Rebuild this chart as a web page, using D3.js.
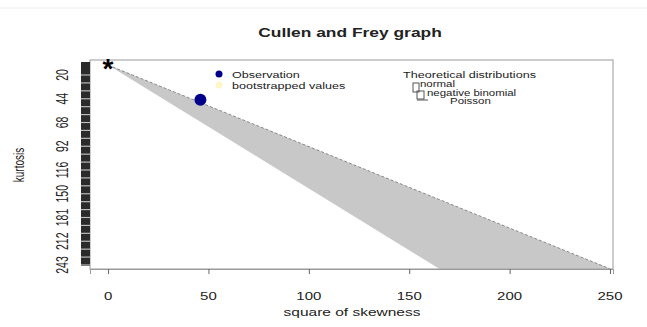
<!DOCTYPE html>
<html lang="en">
<head>
    <meta charset="UTF-8">
    <title>Cullen and Frey graph</title>
    <script src="https://d3js.org/d3.v7.min.js"></script>
    <style>
        body { margin: 0; background: white; }
        text { font-family: "Liberation Sans", Arial, sans-serif; fill: #222; }
    </style>
</head>
<body>
    <svg id='svg'></svg>
    <script>
        // data
        const xTicks = [0, 50, 100, 150, 200, 250];
        const kurtLabels = [20, 44, 68, 92, 116, 150, 181, 212, 243];
        const normalPoint = [0, 10];          // square of skewness, kurtosis
        const observation = [46, 45];
        const betaRegion = [[0, 10], [250, 248], [165, 248]];
        const theoLabels = ["normal", "negative binomial", "Poisson"];

        const width = 647, height = 327;
        const svg = d3.select('#svg').attr('width', width).attr('height', height);
        const sx = 1.5; // the picture is stretched sideways

        const xScale = d3.scaleLinear().domain([-9, 251.5]).range([90, 613]);
        // labels are evenly spaced on the axis
        const yScale = d3.scaleLinear()
            .domain(kurtLabels)
            .range(kurtLabels.map((d, i) => 75 + i * (265 - 75) / (kurtLabels.length - 1)));

        function label(x, y, txt, opts) {
            opts = opts || {};
            const t = svg.append('text')
                .attr('transform', `translate(${x},${y}) scale(${opts.sx || sx},1)` + (opts.rot ? ` rotate(${opts.rot})` : ''))
                .attr('text-anchor', opts.anchor || 'middle')
                .style('font-size', (opts.size || 10) + 'px')
                .text(txt);
            if (opts.bold) t.style('font-weight', 'bold');
            return t;
        }

        svg.append('line').attr('x1', 0).attr('x2', width).attr('y1', 8).attr('y2', 8)
            .attr('stroke', '#eee');

        // shaded region
        svg.append('path')
            .attr('d', d3.line().x(d => xScale(d[0])).y(d => yScale(d[1]))(betaRegion) + 'Z')
            .attr('fill', '#c8c8c8');
        svg.append('line')
            .attr('x1', xScale(betaRegion[0][0])).attr('y1', yScale(betaRegion[0][1]))
            .attr('x2', xScale(betaRegion[1][0])).attr('y2', yScale(betaRegion[1][1]))
            .attr('stroke', '#888').attr('stroke-dasharray', '3,2');

        // plot box
        svg.append('rect').attr('x', 90).attr('y', 60).attr('width', 523).attr('height', 209)
            .attr('fill', 'none').attr('stroke', '#999');

        // x axis
        const xAxis = svg.append('g').attr('transform', 'translate(0,269)')
            .call(d3.axisBottom(xScale).tickValues(xTicks).tickSize(5).tickFormat(''));
        xAxis.select('.domain').attr('stroke', '#999');
        xAxis.selectAll('.tick line').attr('stroke', '#666');
        xTicks.forEach(t => label(xScale(t), 300, t, { size: 10 }));

        // y axis: dense tick strip
        svg.append('rect').attr('x', 81).attr('y', 62).attr('width', 9).attr('height', 204)
            .attr('fill', '#2b2b2b');
        const steps = d3.range(0, (kurtLabels.length - 1) * 3 + 1);
        svg.selectAll('.gap').data(steps).enter().append('line')
            .attr('x1', 81).attr('x2', 90)
            .attr('y1', d => 75 + d * (190 / 24)).attr('y2', d => 75 + d * (190 / 24))
            .attr('stroke', '#bbb').attr('stroke-width', 1.2);
        kurtLabels.forEach(k => label(68, yScale(k), k, { rot: -90, size: 10.5 }));

        // marks
        svg.append('text')
            .attr('x', xScale(normalPoint[0])).attr('y', yScale(normalPoint[1]) + 13)
            .attr('text-anchor', 'middle').style('font-size', '28px').style('font-weight', 'bold')
            .style('fill', '#000').text('*');
        svg.append('circle')
            .attr('cx', xScale(observation[0])).attr('cy', yScale(observation[1]))
            .attr('r', 6).attr('fill', '#00008b');

        // titles
        label(350, 37, 'Cullen and Frey graph', { size: 12, bold: true, sx: 1.45 });
        label(352, 316, 'square of skewness', { size: 10, sx: 1.55 });
        label(24, 165, 'kurtosis', { rot: -90, size: 10 });

        // legend 1
        svg.append('circle').attr('cx', 219).attr('cy', 74).attr('r', 3.5).attr('fill', '#00008b');
        svg.append('circle').attr('cx', 219).attr('cy', 85).attr('r', 3.5).attr('fill', '#fff6c8');
        label(232, 78, 'Observation', { anchor: 'start', size: 9, sx: 1.4 });
        label(232, 89, 'bootstrapped values', { anchor: 'start', size: 9, sx: 1.4 });

        // legend 2
        label(403, 78, 'Theoretical distributions', { anchor: 'start', size: 9, sx: 1.4 });
        svg.append('rect').attr('x', 413).attr('y', 83).attr('width', 6).attr('height', 9)
            .attr('fill', 'none').attr('stroke', '#555');
        svg.append('rect').attr('x', 417).attr('y', 91).attr('width', 7).attr('height', 8)
            .attr('fill', 'none').attr('stroke', '#555');
        svg.append('line').attr('x1', 417).attr('x2', 428).attr('y1', 100).attr('y2', 100)
            .attr('stroke', '#555');
        const theoPos = [[420, 87], [427, 95.5], [450, 104]];
        theoLabels.forEach((t, i) => label(theoPos[i][0], theoPos[i][1], t, { anchor: 'start', size: 8.5, sx: 1.35 }));
    </script>
</body>
</html>
